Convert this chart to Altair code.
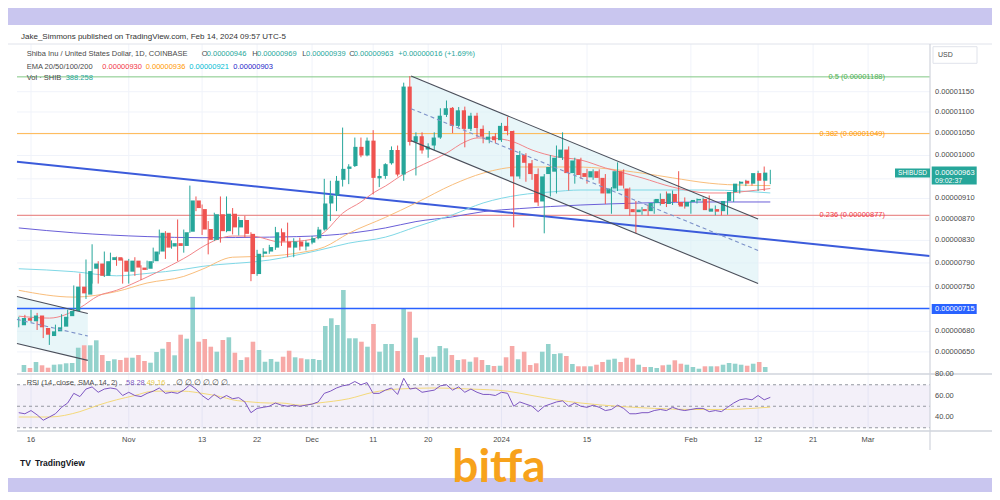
import altair as alt
import pandas as pd

# ---------------------------------------------------------------------------
# Data. Prices are in units of 1e-8 USD (946 = 0.00000946)
# ---------------------------------------------------------------------------
first_day = "2023-10-14"
origin_day = "2023-10-16"   # x = 0

opens = [689, 700, 695, 704, 685, 673, 680, 687, 703, 711,
         750, 737, 780, 789, 768, 795, 800, 794, 775, 794,
         782, 780, 793, 810, 844, 819, 825, 820, 846, 906,
         889, 851, 831, 879, 847, 880, 854, 868, 842, 771,
         806, 810, 817, 845, 828, 817, 828, 819, 826, 834,
         850, 900, 916, 948, 971, 977, 1019, 1000, 1033, 951,
         956, 983, 1012, 959, 1163, 1030, 1043, 1013, 1022, 1040,
         1093, 1110, 1067, 1104, 1060, 1091, 1060, 1035, 1043, 1034,
         1067, 1055, 955, 1001, 983, 960, 904, 960, 965, 995,
         1013, 962, 991, 962, 953, 966, 952, 920, 930, 966,
         930, 889, 883, 889, 885, 901, 909, 899, 919, 903,
         894, 903, 906, 909, 884, 889, 885, 905, 923, 940,
         946, 940, 962, 946]
highs = [702, 705, 713, 708, 689, 683, 690, 706, 713, 752,
         772, 796, 823, 793, 810, 808, 801, 798, 797, 800,
         786, 794, 817, 850, 847, 830, 869, 850, 936, 914,
         898, 866, 882, 914, 914, 891, 874, 876, 845, 813,
         816, 822, 855, 852, 863, 834, 835, 830, 838, 855,
         950, 946, 956, 1063, 981, 1040, 1040, 1040, 1057, 971,
         983, 1020, 1022, 1173, 1190, 1052, 1052, 1027, 1052, 1109,
         1128, 1112, 1112, 1113, 1098, 1098, 1068, 1055, 1050, 1074,
         1088, 1056, 1010, 1005, 990, 972, 960, 1001, 1022, 1052,
         1020, 995, 995, 971, 970, 970, 960, 933, 985, 970,
         932, 905, 893, 898, 908, 920, 924, 926, 966, 912,
         905, 910, 912, 916, 896, 893, 910, 930, 945, 948,
         956, 967, 976, 969]
lows = [686, 693, 694, 682, 670, 660, 678, 685, 699, 709,
        723, 730, 755, 755, 766, 775, 785, 755, 755, 768,
        761, 778, 790, 805, 797, 815, 793, 808, 844, 885,
        840, 805, 829, 826, 845, 841, 839, 835, 759, 768,
        800, 806, 813, 820, 800, 800, 812, 812, 823, 832,
        848, 866, 885, 934, 939, 975, 996, 998, 918, 933,
        950, 980, 955, 946, 1022, 957, 1004, 995, 1011, 1037,
        1088, 1050, 1063, 1018, 1055, 1040, 1027, 1027, 1027, 1030,
        1045, 854, 950, 944, 948, 895, 843, 914, 920, 990,
        926, 940, 950, 940, 948, 940, 899, 880, 925, 930,
        876, 843, 878, 876, 880, 896, 893, 897, 897, 890,
        880, 900, 902, 885, 877, 877, 878, 903, 920, 935,
        936, 925, 925, 939]
closes = [700, 696, 704, 686, 675, 680, 686, 702, 711, 750,
          739, 776, 789, 768, 793, 800, 794, 775, 794, 782,
          778, 793, 810, 844, 817, 825, 820, 845, 906, 891,
          850, 831, 879, 847, 880, 854, 868, 842, 771, 806,
          810, 818, 845, 828, 817, 828, 819, 826, 834, 850,
          900, 916, 946, 971, 976, 1019, 1000, 1033, 952, 956,
          981, 1012, 959, 1163, 1030, 1043, 1011, 1020, 1040, 1091,
          1109, 1067, 1104, 1060, 1091, 1062, 1042, 1042, 1034, 1067,
          1055, 955, 1001, 984, 960, 902, 955, 975, 995, 1013,
          962, 989, 958, 954, 966, 952, 920, 930, 966, 936,
          889, 883, 888, 885, 901, 909, 899, 920, 903, 894,
          903, 907, 909, 887, 890, 884, 905, 923, 940, 944,
          940, 962, 946, 963]
volumes = [546, 312, 780, 523, 335, 569, 600, 679, 702, 1895,
           2083, 2083, 2473, 1326, 858, 991, 936, 1115, 1115, 1326,
           858, 725, 1560, 1817, 2340, 1303, 2909, 2597, 5873, 2363,
           2574, 1973, 1583, 2496, 2707, 1505, 936, 1147, 2363, 1716,
           803, 1014, 803, 1193, 1661, 1147, 1069, 991, 1014, 936,
           3588, 4189, 3666, 6396, 2629, 2629, 2363, 1973, 3744, 1583,
           2184, 2184, 1638, 4937, 4703, 2675, 1326, 1147, 1193, 2028,
           1849, 1326, 936, 991, 803, 1147, 936, 546, 468, 491,
           1147, 2028, 991, 1583, 546, 679, 1583, 2184, 1404, 1459,
           1248, 624, 445, 445, 445, 569, 780, 959, 1037, 780,
           1115, 1037, 569, 390, 390, 312, 523, 569, 913, 647,
           569, 390, 257, 445, 445, 445, 569, 702, 647, 569,
           491, 647, 780, 388]
rsi_values = [44, 43, 46, 42, 37, 40, 43, 49, 53, 62,
              59, 66, 68, 63, 66, 67, 66, 60, 63, 60,
              59, 62, 64, 67, 62, 63, 62, 65, 70, 66,
              60, 56, 61, 57, 60, 57, 58, 54, 44, 48,
              49, 50, 53, 51, 50, 51, 50, 51, 52, 54,
              62, 64, 67, 69, 70, 73, 70, 72, 62, 62,
              65, 67, 61, 76, 66, 67, 63, 64, 65, 69,
              70, 65, 68, 63, 66, 63, 61, 61, 60, 63,
              62, 50, 54, 52, 50, 45, 50, 52, 54, 55,
              50, 53, 50, 49, 51, 49, 46, 47, 51, 48,
              43, 43, 44, 44, 46, 47, 46, 49, 47, 46,
              47, 48, 48, 45, 46, 45, 49, 53, 56, 57,
              56, 60, 56, 58.28]

# moving averages read at sample days (day 0 = origin_day)
ema20_days = [-2, 3, 8, 11, 14, 19, 22, 26, 28, 33, 36, 41, 46, 48, 51, 54, 56, 58, 61, 63,
              68, 71, 73, 75, 79, 82, 86, 90, 94, 100, 105, 111, 114, 116, 119, 121]
ema20_vals = [703, 700, 716, 735, 744, 766, 781, 804, 818, 838, 838, 827, 832, 845, 881, 903, 921, 935, 960, 973,
              1005, 1030, 1039, 1039, 1030, 1012, 997, 990, 973, 952, 933, 921, 921, 923, 927, 930]
ema50_days = [-2, 7, 14, 19, 25, 28, 33, 39, 44, 48, 52, 58, 63, 69, 74, 80, 89, 100, 105, 111, 114, 121]
ema50_vals = [744, 733, 742, 756, 767, 779, 800, 802, 808, 818, 843, 873, 901, 938, 962, 975, 975, 962, 952, 941, 938, 936]
ema100_days = [-2, 7, 14, 19, 25, 28, 39, 47, 52, 58, 63, 69, 74, 80, 85, 90, 100, 111, 121]
ema100_vals = [780, 775, 768, 772, 779, 784, 795, 812, 825, 836, 855, 878, 901, 917, 923, 927, 927, 927, 921]
ema200_days = [-2, 7, 19, 28, 39, 48, 58, 63, 69, 74, 80, 85, 90, 100, 111, 121]
ema200_vals = [853, 844, 837, 835, 836, 839, 853, 865, 874, 884, 890, 894, 897, 901, 903, 903]
rsi_ma_days = [-2, 3, 8, 11, 14, 17, 20, 25, 28, 31, 33, 36, 39, 41, 44, 47, 52, 56, 60, 66,
               72, 78, 82, 86, 90, 96, 102, 108, 114, 118, 121]
rsi_ma_vals = [40, 40, 45, 51, 56, 60, 64, 64, 62, 59, 56, 54, 53, 53, 51, 53, 57, 63, 66, 67,
               66, 64, 60, 56, 53, 50, 48, 47, 47, 48, 49.16]

# drawings: (day, price) end points
fib_levels = [1188, 1049, 877]
fib_names = ["0.5 (0.00001188)", "0.382 (0.00001049)", "0.236 (0.00000877)"]
trend_days = [-2.3, 147.1]
trend_prices = [986, 802]
support_level = 715
chan_days = [62.2, 119]
chan_upper = [1190, 870]
chan_lower = [1033, 755]
chan_mid = [1108, 812]
small_days = [-2.3, 9.3]
small_upper = [734, 707]
small_lower = [662, 638]
small_mid = [698, 673]

price_ticks = [1150, 1100, 1050, 1000, 910, 870, 830, 790, 750, 680, 650]
grid_prices = [1150, 1100, 1050, 1000, 950, 910, 870, 830, 790, 750, 715, 680, 650]
rsi_ticks = [80, 60, 40]
date_ticks = ["2023-10-16", "2023-11-01", "2023-11-13", "2023-11-22", "2023-12-01", "2023-12-11",
              "2023-12-20", "2024-01-01", "2024-01-15", "2024-02-01", "2024-02-12", "2024-02-21",
              "2024-03-01"]
date_labels = ["16", "Nov", "13", "22", "Dec", "11", "20", "2024", "15", "Feb", "12", "21", "Mar"]

# ---------------------------------------------------------------------------
origin = pd.Timestamp(origin_day)
dates = pd.date_range(first_day, periods=len(opens), freq="D")
candles = pd.DataFrame({
    "day": [(d - origin).days for d in dates],
    "open": opens, "high": highs, "low": lows, "close": closes,
    "vol": volumes, "rsi": rsi_values,
})
candles["up"] = candles["close"] >= candles["open"]

FONT = "Liberation Sans"
TEAL, RED = "#26a69a", "#ef5350"

XS = alt.Scale(domain=[0, 120], range=[23, 756.2], nice=False, zero=False)
PS = alt.Scale(type="log", domain=[650, 1150], range=[343.9, 83.7], nice=False)
VS = alt.Scale(domain=[0, 7800], range=[364, 264], nice=False, zero=True)
RS = alt.Scale(domain=[40, 80], range=[409, 366], nice=False, zero=False)

ONE = pd.DataFrame({"k": [0]})


def X(f="day"):
    return alt.X(f"{f}:Q", scale=XS, axis=None)


def Y(f, s):
    return alt.Y(f"{f}:Q", scale=s, axis=None)


def rect(x1, y1, x2, y2, fill, stroke=None, op=1.0):
    kw = dict(fill=fill, opacity=op)
    if stroke:
        kw.update(stroke=stroke, strokeWidth=1)
    return alt.Chart(ONE).mark_rect(**kw).encode(
        x=alt.value(x1), x2=alt.value(x2), y=alt.value(y1), y2=alt.value(y2))


def rule(x1, y1, x2, y2, color, w=1.0):
    return alt.Chart(ONE).mark_rule(color=color, strokeWidth=w).encode(
        x=alt.value(x1), x2=alt.value(x2), y=alt.value(y1), y2=alt.value(y2))


def txt(s, x, y, color, size=7.5, weight="normal", align="left", font=FONT, baseline="middle"):
    return alt.Chart(pd.DataFrame({"t": [s]})).mark_text(
        align=align, baseline=baseline, fontSize=size, fontWeight=weight, color=color, font=font
    ).encode(x=alt.value(x), y=alt.value(y), text="t:N")


def line_df(days, vals):
    return pd.DataFrame({"day": days, "v": vals})


layers = []
# card
layers.append(rect(0, 17, 984, 470, "#ffffff"))

# grid
grid_df = pd.DataFrame({"p": grid_prices})
layers.append(alt.Chart(grid_df).mark_rule(color="#f0f3fa", strokeWidth=1).encode(
    x=alt.value(9), x2=alt.value(922), y=Y("p", PS)))
dt_df = pd.DataFrame({"day": [(pd.Timestamp(d) - origin).days for d in date_ticks], "lab": date_labels})
layers.append(alt.Chart(dt_df).mark_rule(color="#f0f3fa", strokeWidth=1).encode(
    x=X(), y=alt.value(36), y2=alt.value(423)))

# channel fills
big = pd.DataFrame({"day": chan_days, "u": chan_upper, "l": chan_lower, "m": chan_mid})
small = pd.DataFrame({"day": small_days, "u": small_upper, "l": small_lower, "m": small_mid})
for d in (big, small):
    layers.append(alt.Chart(d).mark_area(color="#d9f0f5", opacity=0.6).encode(
        x=X(), y=Y("u", PS), y2=alt.Y2("l:Q")))

# RSI band
rband = pd.DataFrame({"a": [70], "b": [30]})
layers.append(alt.Chart(rband).mark_rect(color="#7e57c2", opacity=0.09).encode(
    x=alt.value(9), x2=alt.value(922), y=Y("a", RS), y2=alt.Y2("b:Q")))
rlev = pd.DataFrame({"v": [70, 50, 30]})
layers.append(alt.Chart(rlev).mark_rule(color="#9598a1", strokeDash=[3, 3], strokeWidth=1).encode(
    x=alt.value(9), x2=alt.value(922), y=Y("v", RS)))

# volume
layers.append(alt.Chart(candles).mark_bar(size=4.6).encode(
    x=X(), y=Y("vol", VS),
    color=alt.condition("datum.up", alt.value("#93d2cc"), alt.value("#f7a9a7"))))

# fib lines
fib_df = pd.DataFrame({"p": fib_levels, "name": fib_names,
                       "c": ["#81c784", "#ffb74d", "#e57373"], "tc": ["#4caf50", "#ff9800", "#f23645"]})
layers.append(alt.Chart(fib_df).mark_rule(strokeWidth=1).encode(
    x=alt.value(9), x2=alt.value(922), y=Y("p", PS), color=alt.Color("c:N", scale=None)))

# support line and trend line
layers.append(alt.Chart(pd.DataFrame({"p": [support_level]})).mark_rule(color="#2962ff", strokeWidth=1.6).encode(
    x=alt.value(9), x2=alt.value(922), y=Y("p", PS)))
layers.append(alt.Chart(line_df(trend_days, trend_prices)).mark_line(color="#3b5bdb", strokeWidth=2).encode(
    x=X(), y=Y("v", PS)))

# EMAs
for days, vals, col in [(ema200_days, ema200_vals, "#6a5fd8"), (ema100_days, ema100_vals, "#7fd8e6"),
                        (ema50_days, ema50_vals, "#f9be7c"), (ema20_days, ema20_vals, "#f2868a")]:
    layers.append(alt.Chart(line_df(days, vals)).mark_line(color=col, strokeWidth=1, interpolate="monotone").encode(
        x=X(), y=Y("v", PS)))

# candles
cond = alt.condition("datum.up", alt.value(TEAL), alt.value(RED))
layers.append(alt.Chart(candles).mark_rule(strokeWidth=1).encode(
    x=X(), y=Y("low", PS), y2=alt.Y2("high:Q"), color=cond))
layers.append(alt.Chart(candles).mark_bar(size=4.2).encode(
    x=X(), y=Y("open", PS), y2=alt.Y2("close:Q"), color=cond))

# channel lines
for d in (big, small):
    for f in ("u", "l"):
        layers.append(alt.Chart(d).mark_line(color="#4a4e5a", strokeWidth=1.1).encode(x=X(), y=Y(f, PS)))
    layers.append(alt.Chart(d).mark_line(color="#7d92c9", strokeWidth=1.1, strokeDash=[4, 3]).encode(
        x=X(), y=Y("m", PS)))

# RSI lines
layers.append(alt.Chart(line_df(rsi_ma_days, rsi_ma_vals)).mark_line(
    color="#f3d97a", strokeWidth=1, interpolate="monotone").encode(x=X(), y=Y("v", RS)))
layers.append(alt.Chart(candles).mark_line(color="#7e57c2", strokeWidth=1).encode(x=X(), y=Y("rsi", RS)))

# frame lines
layers += [
    rule(0, 36, 984, 36, "#e0e3eb"),
    rule(922, 36, 922, 442, "#d1d4dc", 1.2),
    rule(9, 366, 984, 366, "#d1d4dc", 1.5),
    rule(9, 423, 984, 423, "#d1d4dc", 1.5),
]

# fib labels
layers.append(alt.Chart(fib_df).mark_text(align="right", baseline="middle", fontSize=7.5, font=FONT).encode(
    x=alt.value(877), y=Y("p", PS), text="name:N", color=alt.Color("tc:N", scale=None)))

# price axis labels
pt_df = pd.DataFrame({"p": price_ticks, "lab": [f"0.{v:08d}" for v in price_ticks]})
layers.append(alt.Chart(pt_df).mark_text(align="left", baseline="middle", fontSize=7.5, font=FONT, color="#4a4a4a").encode(
    x=alt.value(927), y=Y("p", PS), text="lab:N"))
rt_df = pd.DataFrame({"v": rsi_ticks, "lab": [f"{v:.2f}" for v in rsi_ticks]})
layers.append(alt.Chart(rt_df).mark_text(align="left", baseline="middle", fontSize=7.5, font=FONT, color="#4a4a4a").encode(
    x=alt.value(927), y=Y("v", RS), text="lab:N"))
# date labels
layers.append(alt.Chart(dt_df).mark_text(align="center", baseline="middle", fontSize=7.5, font=FONT, color="#4a4a4a").encode(
    x=X(), y=alt.value(432), text="lab:N"))

# price tags
layers += [
    rect(925, 38.7, 969, 55.3, "#ffffff", stroke="#e0e3eb"),
    txt("USD", 930, 47, "#4a4a4a", 7),
    rect(887, 160.5, 922, 169.5, TEAL),
    txt("SHIBUSD", 904.5, 165, "#ffffff", 6.5, align="center"),
    rect(923.7, 158.5, 968.7, 176.5, TEAL),
    txt("0.00000963", 927, 165, "#ffffff", 7.5),
    txt("09:02:37", 927, 172.5, "#ffffff", 7),
    rect(923.7, 296, 968.7, 306, "#2962ff"),
    txt("0.00000715", 927, 301, "#ffffff", 7.5),
]

# header / legends
G = "#4a4a4a"
layers += [
    txt("Jake_Simmons published on TradingView.com, Feb 14, 2024 09:57 UTC-5", 13, 29, "#333333", 8),
    txt("Shiba Inu / United States Dollar, 1D, COINBASE", 18.7, 46.3, G),
    txt("O", 193.7, 46.3, G), txt("0.00000946", 198.7, 46.3, TEAL),
    txt("H", 244.3, 46.3, G), txt("0.00000969", 249, 46.3, TEAL),
    txt("L", 294.3, 46.3, G), txt("0.00000939", 298, 46.3, TEAL),
    txt("C", 341.3, 46.3, G), txt("0.00000963", 345.7, 46.3, TEAL),
    txt("+0.00000016 (+1.69%)", 390.3, 46.3, TEAL),
    txt("EMA 20/50/100/200", 18.7, 58.7, G),
    txt("0.00000930", 94.3, 58.7, "#f23645"),
    txt("0.00000936", 137.7, 58.7, "#ff9800"),
    txt("0.00000921", 181.3, 58.7, "#00bcd4"),
    txt("0.00000903", 225.3, 58.7, "#1e1ec8"),
    txt("Vol · SHIB", 18.7, 70.3, G),
    txt("388.258", 57.7, 70.3, TEAL),
    txt("RSI (14, close, SMA, 14, 2)", 18.7, 375, G),
    txt("58.28", 118, 375, "#7e57c2"),
    txt("49.16", 138.7, 375, "#e8c94a"),
    txt("∅   ∅   ∅   ∅   ∅   ∅", 168, 375, G),
    txt("TV", 12, 455, "#131722", 8.5, "bold"),
    txt("TradingView", 27, 455, "#131722", 8.5, "bold"),
    txt("bitfa", 491, 474, "#f7a21b", 46, "bold", align="center", font="Lato", baseline="alphabetic"),
]

chart = alt.layer(*layers).resolve_scale(x="independent", y="independent", color="independent").properties(
    width=984, height=484, autosize=alt.AutoSizeParams(type="none"), padding=0, background="#c9c6ef"
).configure_view(stroke=None)

chart.save("out.html", embed_options={"renderer": "svg", "actions": False})
